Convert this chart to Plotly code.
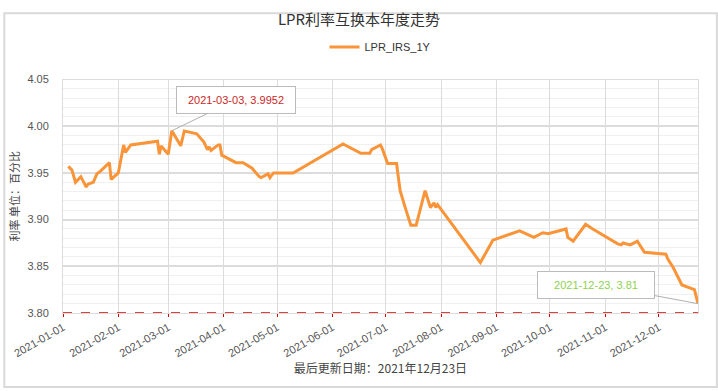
import plotly.graph_objects as go

dates = ["2021-01-04","2021-01-06","2021-01-08","2021-01-11","2021-01-14","2021-01-15","2021-01-18","2021-01-20","2021-01-22","2021-01-27","2021-01-28",
         "2021-02-01","2021-02-04","2021-02-05","2021-02-08","2021-02-23","2021-02-24","2021-02-25",
         "2021-03-01","2021-03-03","2021-03-08","2021-03-10","2021-03-17","2021-03-19","2021-03-21","2021-03-23","2021-03-24","2021-03-25","2021-03-29","2021-03-30","2021-03-31",
         "2021-04-08","2021-04-12","2021-04-17","2021-04-21","2021-04-22","2021-04-26","2021-04-27","2021-04-29",
         "2021-05-10","2021-06-07","2021-06-17","2021-06-22","2021-06-23","2021-06-28","2021-06-29",
         "2021-07-02","2021-07-07","2021-07-09","2021-07-12","2021-07-14","2021-07-15","2021-07-18","2021-07-23","2021-07-26","2021-07-28","2021-07-29","2021-07-30",
         "2021-08-23","2021-08-30","2021-09-14","2021-09-22","2021-09-27","2021-09-30",
         "2021-10-10","2021-10-11","2021-10-14","2021-10-21","2021-10-25",
         "2021-11-08","2021-11-10","2021-11-11","2021-11-15","2021-11-19","2021-11-23",
         "2021-12-05","2021-12-06","2021-12-09","2021-12-14","2021-12-21","2021-12-23"]
values = [3.957,3.953,3.940,3.946,3.935,3.938,3.940,3.949,3.952,3.961,3.943,
          3.950,3.980,3.972,3.980,3.984,3.970,3.979,
          3.970,3.9952,3.979,3.995,3.992,3.987,3.983,3.975,3.978,3.974,3.980,3.980,3.969,
          3.961,3.961,3.955,3.946,3.945,3.949,3.945,3.950,
          3.950,3.981,3.971,3.971,3.975,3.980,3.976,
          3.960,3.960,3.931,3.912,3.901,3.894,3.894,3.931,3.913,3.918,3.913,3.916,
          3.854,3.878,3.888,3.881,3.886,3.885,
          3.890,3.881,3.877,3.895,3.890,
          3.874,3.873,3.875,3.873,3.877,3.865,
          3.863,3.858,3.849,3.830,3.825,3.810]
month_ticks = ["2021-01-01","2021-02-01","2021-03-01","2021-04-01","2021-05-01","2021-06-01",
               "2021-07-01","2021-08-01","2021-09-01","2021-10-01","2021-11-01","2021-12-01"]
series_name = "LPR_IRS_1Y"
title = "LPR利率互换本年度走势"
y_title = "利率 单位：百分比"
x_title = "最后更新日期：2021年12月23日"
baseline = 3.80

ORANGE = "#FA9438"
FONT = "Liberation Sans, Arial, Noto Sans CJK SC, sans-serif"
CJK = "Noto Sans CJK SC, sans-serif"

fig = go.Figure()
fig.add_trace(go.Scatter(x=dates, y=values, mode="lines", name=series_name,
                         line=dict(color=ORANGE, width=3)))

imax = max(range(len(values)), key=lambda i: values[i])
ilast = len(values) - 1

fig.add_shape(type="line", xref="paper", yref="y", x0=0, x1=1, y0=baseline, y1=baseline,
              line=dict(color="#d40000", width=1.3, dash="dash"), layer="above")
# outer frame
fig.add_shape(type="rect", xref="paper", yref="paper",
              x0=-59/638, x1=657/638, y0=(313-390)/243, y1=312/243,
              line=dict(color="#d9d9d9", width=2), fillcolor="rgba(0,0,0,0)")

fig.add_annotation(x=dates[imax], y=values[imax], text=f"{dates[imax]}, {values[imax]}",
                   showarrow=True, arrowhead=0, arrowwidth=1, arrowcolor="#b0b0b0",
                   ax=64, ay=-31, standoff=0, width=116, height=24,
                   bgcolor="white", bordercolor="#bbbbbb", borderwidth=1,
                   font=dict(family=FONT, size=11, color="#cc1f1f"))
fig.add_annotation(x=dates[ilast], y=values[ilast], text=f"{dates[ilast]}, {values[ilast]}",
                   showarrow=True, arrowhead=0, arrowwidth=1, arrowcolor="#b0b0b0",
                   ax=-102, ay=-19, standoff=0, width=114, height=24,
                   bgcolor="white", bordercolor="#bbbbbb", borderwidth=1,
                   font=dict(family=FONT, size=11, color="#8fd14f"))

fig.update_layout(
    width=718, height=391,
    margin=dict(l=60, r=20, t=70, b=78),
    paper_bgcolor="white", plot_bgcolor="white",
    title=dict(text=title, x=0.5, xanchor="center", y=0.95, yanchor="middle",
               font=dict(family=CJK, size=15, color="#333333")),
    legend=dict(orientation="h", x=0.5, xanchor="center", y=0.88, yanchor="middle",
                yref="container", font=dict(family=FONT, size=11, color="#333333"),
                bgcolor="rgba(0,0,0,0)"),
    showlegend=True,
    xaxis=dict(type="date", range=["2021-01-01", "2021-12-23"],
               tickvals=month_ticks, ticktext=month_ticks, tickangle=-30,
               tickfont=dict(family=FONT, size=11, color="#555555"),
               showgrid=True, gridcolor="#dcdcdc", gridwidth=1,
               ticks="outside", ticklen=3, tickcolor="#d40000",
               showline=True, linecolor="#dcdcdc", mirror=True, zeroline=False,
               title=dict(text=x_title, font=dict(family=CJK, size=12, color="#444444"), standoff=4)),
    yaxis=dict(range=[3.80, 4.05], dtick=0.05, tick0=3.80, tickformat=".2f",
               tickfont=dict(family=FONT, size=11, color="#555555"),
               showgrid=True, gridcolor="#dcdcdc", gridwidth=1.5,
               minor=dict(dtick=0.01, showgrid=True, gridcolor="#f0f0f0", gridwidth=1),
               ticks="outside", ticklen=11, tickcolor="rgba(0,0,0,0)",
               showline=True, linecolor="#dcdcdc", mirror=True, zeroline=False,
               title=dict(text=y_title, font=dict(family=CJK, size=11, color="#444444"), standoff=5)),
)

fig.write_html("out.html", config={"displayModeBar": False},
               post_script="document.body.style.margin='0';")
